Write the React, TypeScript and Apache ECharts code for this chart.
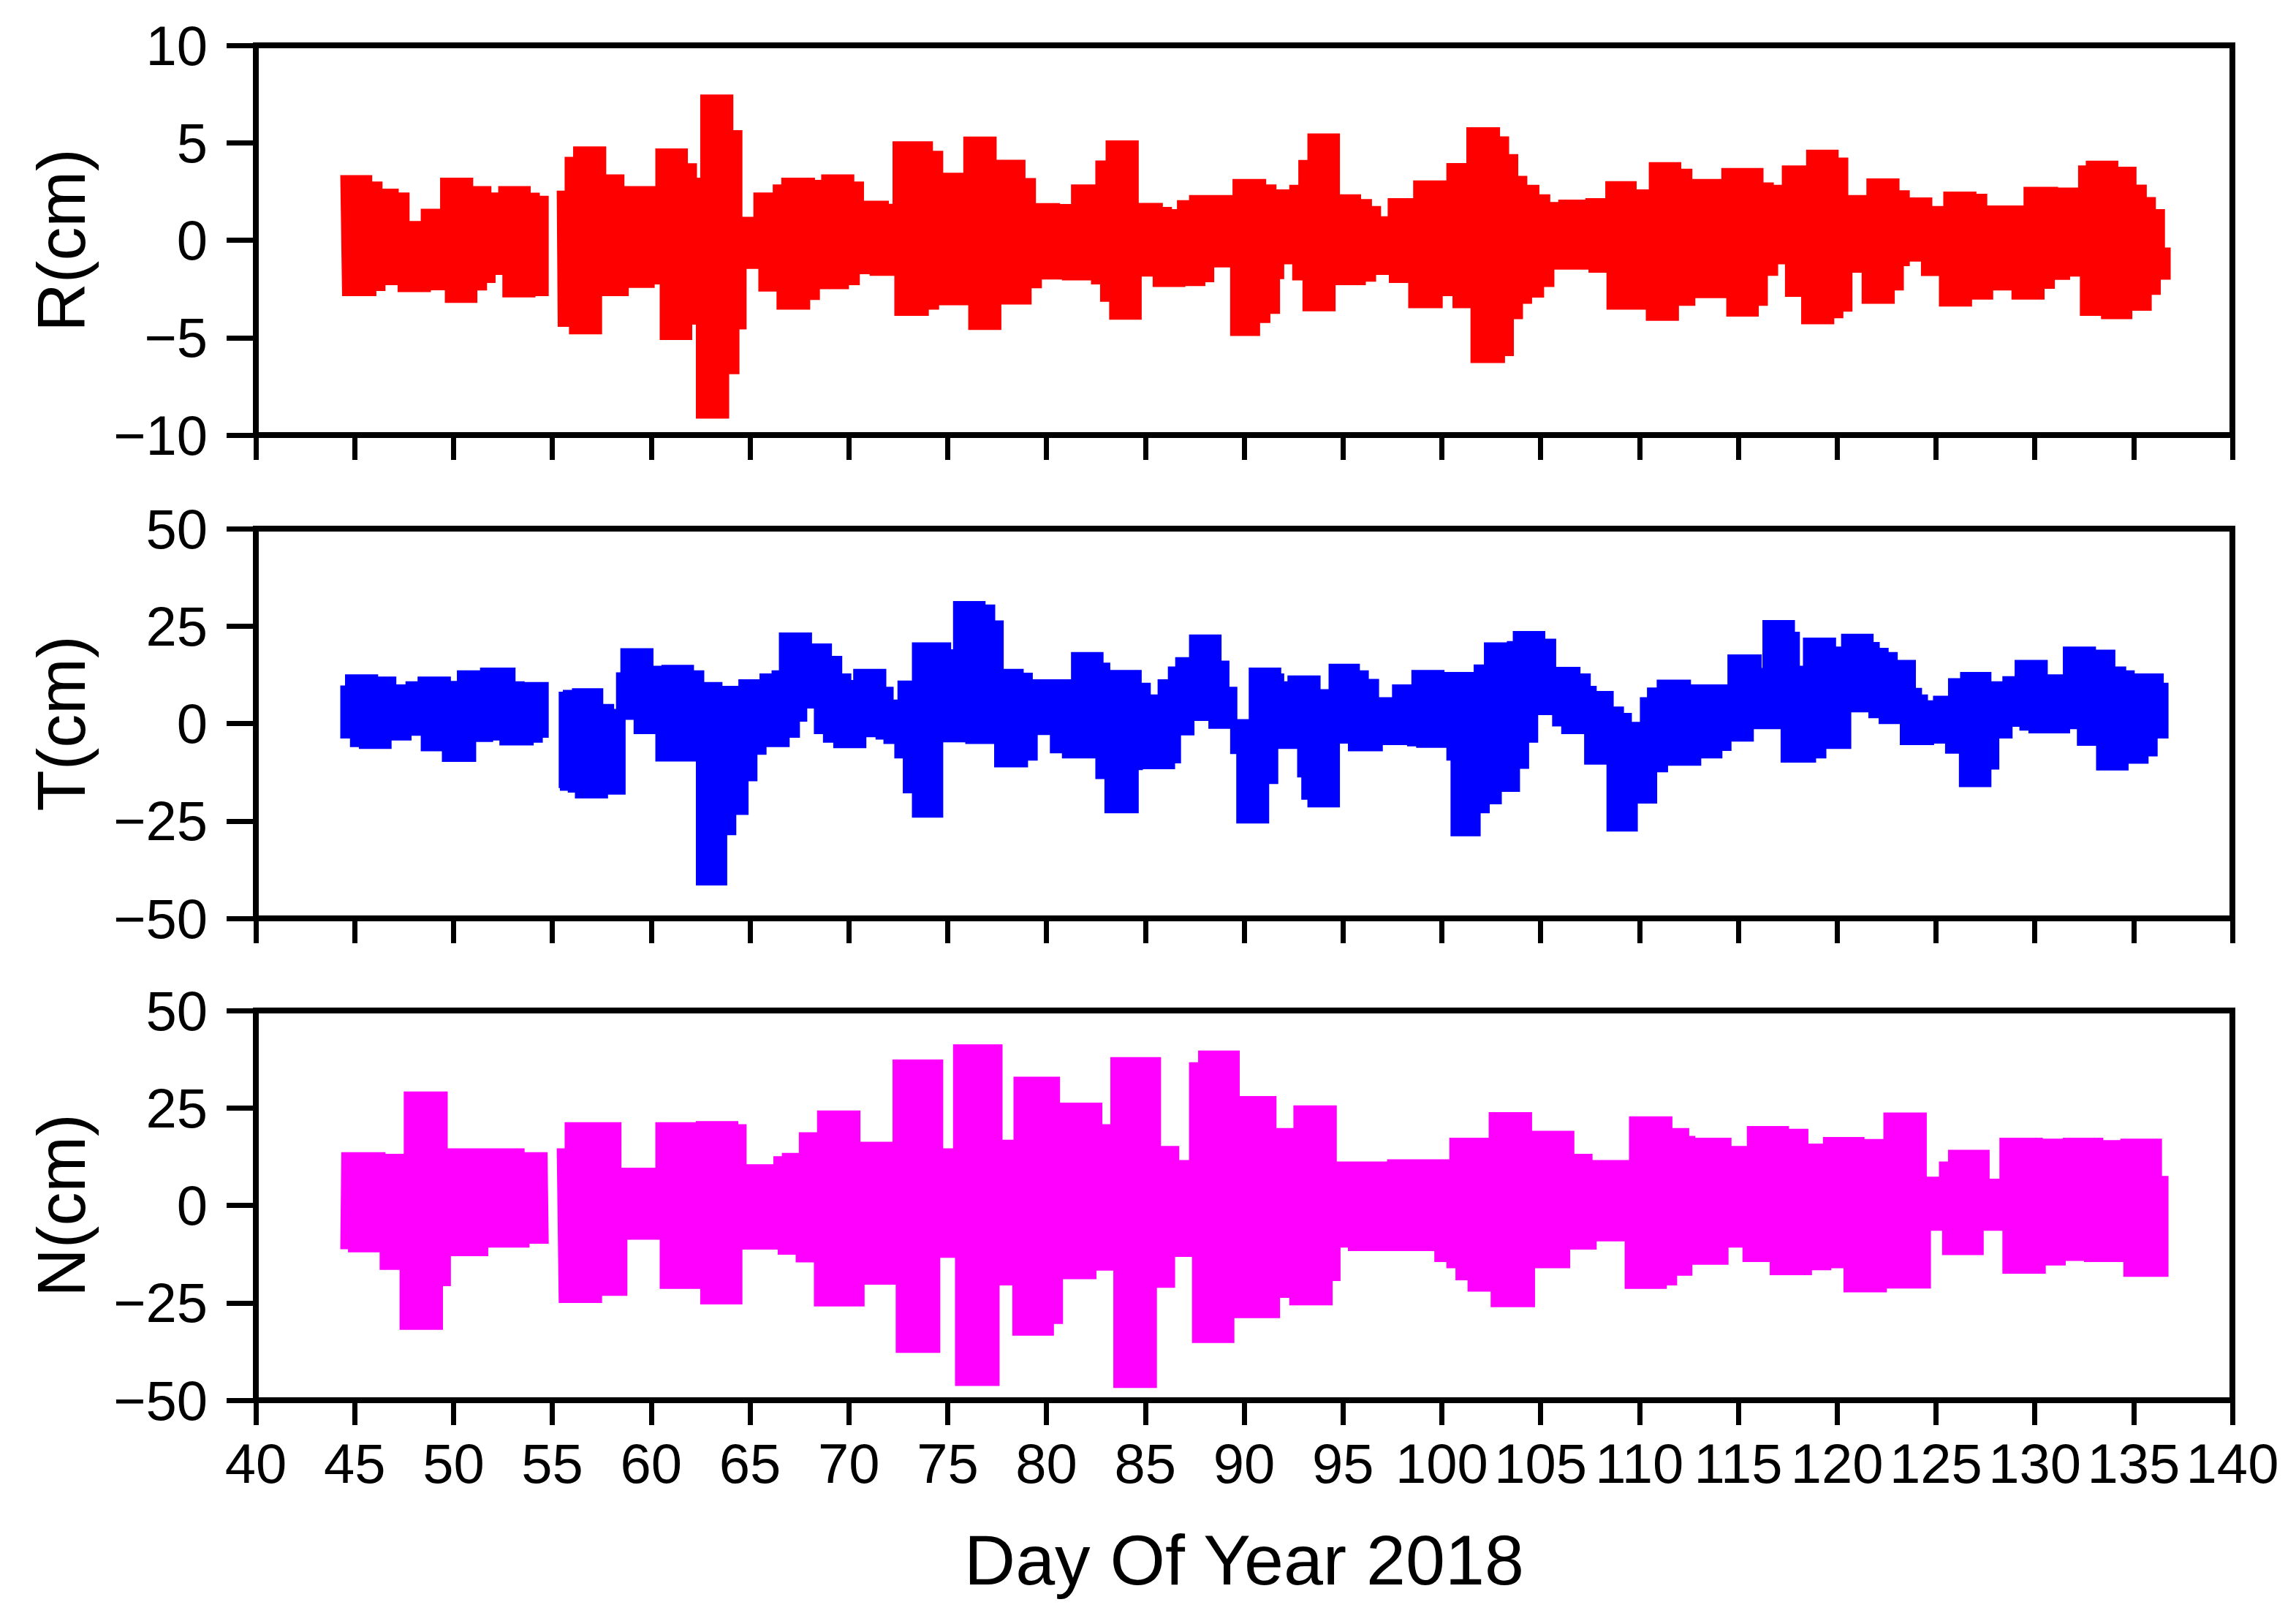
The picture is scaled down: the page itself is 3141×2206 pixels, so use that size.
import React, { useEffect, useRef } from "react";
import * as echarts from "echarts";

type Pt = [number, number | null];

// x axis (day of year)
const xMin = 40;
const xMax = 140;
const xStep = 5;

// panel names, colours and y ranges
const panelNames = ["R(cm)", "T(cm)", "N(cm)"];
const panelColors = ["#FF0000", "#0000FF", "#FF00FF"];
const yMins = [-10, -50, -50];
const yMaxs = [10, 50, 50];
const ySteps = [5, 25, 25];

// Envelopes: [day, value] = value holds from this day to the next entry; null ends a piece
const rUpper: Pt[] = [
  [44.3, 3.31], [45.86, 2.98], [46.38, 2.62], [47.2, 2.42], [47.75, 0.96], [48.37, 1.59], [49.35, 3.18], [50.97, 2.75],
  [51.89, 2.42], [52.29, 2.75], [53.88, 2.41], [54.34, 2.25], [54.79, null],
  [55.25, 2.51], [55.65, 4.25], [56.08, 4.78], [57.7, 3.35], [58.62, 2.75], [60.24, 4.68], [61.83, 3.92], [62.29, 3.18],
  [62.51, 7.45], [64.13, 5.62], [64.59, 1.17], [65.2, 2.42], [66.18, 2.83], [66.61, 3.18], [68.26, 3.07], [68.63, 3.35],
  [70.25, 2.98], [70.74, 2.0], [72.0, 1.84], [72.24, 5.05], [74.23, 4.56], [74.75, 3.43], [75.82, 5.29], [77.45, 4.1],
  [78.91, 3.16], [79.44, 1.88], [80.66, 1.83], [81.27, 2.83], [82.5, 4.06], [83.02, 5.09], [84.64, 1.89], [85.86, 1.68],
  [86.32, 1.57], [86.63, 2.03], [87.24, 2.29], [89.44, 3.11], [91.09, 2.83], [91.61, 2.58], [92.31, 2.81], [92.77, 4.09],
  [93.23, 5.45], [94.82, 2.33], [95.89, 2.08], [96.44, 1.73], [96.9, 1.2], [97.29, 2.13], [98.58, 3.04], [100.26, 3.93],
  [101.27, 5.77], [102.92, 5.3], [103.38, 4.39], [103.84, 3.27], [104.3, 2.81], [104.91, 2.33], [105.46, 1.93], [105.92, 2.05],
  [107.29, 2.13], [108.3, 3.0], [109.83, 2.58], [110.5, 3.98], [112.09, 3.64], [112.65, 3.11], [114.17, 3.68], [116.25, 2.94],
  [116.77, 2.81], [117.23, 3.81], [118.46, 4.62], [120.05, 4.21], [120.54, 2.29], [121.51, 3.14], [123.13, 2.53], [123.65, 2.17],
  [124.79, 1.73], [125.4, 2.47], [127.02, 2.35], [127.57, 1.75], [129.46, 2.71], [131.15, 2.67], [132.22, 3.81], [132.61, 4.05],
  [134.2, 3.74], [135.12, 2.82], [135.64, 2.19], [136.1, 1.57], [136.56, -0.4], [136.85, null],
];
const rLower: Pt[] = [
  [44.39, -2.84], [46.07, -2.58], [46.53, -2.28], [47.2, -2.64], [48.83, -2.54], [49.59, -3.19], [51.18, -2.55], [51.67, -2.17],
  [52.1, -1.75], [52.5, -2.91], [54.12, -2.84], [54.79, null],
  [55.3, -4.42], [55.87, -4.8], [57.49, -2.84], [58.84, -2.42], [60.15, -2.24], [60.46, -5.09], [62.05, -4.31], [62.29, -9.13],
  [63.92, -6.85], [64.44, -4.55], [64.8, -1.44], [65.45, -2.61], [66.37, -3.54], [68.02, -3.04], [68.51, -2.49], [69.98, -2.28],
  [70.53, -1.72], [71.08, -1.8], [72.33, -3.86], [74.02, -3.54], [74.54, -3.31], [76.07, -4.58], [77.69, -3.27], [79.22, -2.44],
  [79.74, -1.99], [80.81, -2.04], [82.28, -2.24], [82.74, -3.13], [83.2, -4.05], [84.79, -1.84], [85.4, -2.37], [87.0, -2.33],
  [88.01, -2.13], [88.46, -1.37], [89.32, -4.89], [90.78, -4.22], [91.3, -3.75], [91.79, -1.97], [92.0, -1.21], [92.46, -2.04],
  [92.98, -3.62], [94.6, -2.28], [96.13, -2.1], [96.65, -1.75], [97.35, -2.17], [98.33, -3.46], [100.02, -2.84], [100.57, -3.46],
  [101.48, -6.28], [103.17, -5.92], [103.62, -4.02], [104.08, -3.24], [104.54, -2.92], [105.15, -2.37], [105.67, -1.48], [107.45, -1.64],
  [108.36, -3.54], [110.35, -4.11], [111.97, -3.34], [112.8, -2.95], [114.42, -3.89], [116.01, -3.34], [116.47, -1.8], [116.99, -1.21],
  [117.39, -2.88], [118.21, -4.29], [119.83, -3.98], [120.29, -3.64], [120.75, -1.64], [121.27, -3.24], [122.89, -2.55], [123.35, -1.3],
  [123.65, -1.07], [124.27, -1.81], [125.18, -3.38], [126.8, -3.02], [127.87, -2.55], [128.85, -3.02], [130.47, -2.47], [130.99, -2.01],
  [131.76, -1.84], [132.31, -3.86], [133.38, -4.02], [134.91, -3.59], [135.89, -2.78], [136.35, -2.0], [136.85, null],
];

const tUpper: Pt[] = [
  [44.3, 9.6], [44.54, 12.5], [46.16, 11.9], [47.08, 9.9], [47.6, 10.7], [48.21, 11.9], [49.84, 10.8], [50.2, 13.5],
  [51.37, 14.2], [53.11, 10.7], [53.57, 10.5], [54.79, null],
  [55.35, 8.0], [55.56, 8.5], [56.02, 8.9], [57.55, 4.9], [58.1, 3.6], [58.25, 13.0], [58.47, 19.2], [60.09, 14.7],
  [60.55, 14.9], [62.14, 13.5], [62.66, 10.5], [63.58, 9.5], [64.44, 11.2], [65.51, 12.7], [66.12, 13.5], [66.49, 23.2],
  [68.11, 20.4], [69.12, 17.2], [69.64, 12.7], [70.1, 11.0], [70.25, 13.9], [71.87, 9.3], [72.24, 6.0], [72.49, 10.9],
  [73.22, 20.7], [75.15, 18.9], [75.3, 31.3], [76.89, 30.4], [77.38, 26.3], [77.81, 13.9], [78.82, 12.9], [79.28, 11.2],
  [81.27, 18.2], [82.86, 15.5], [83.2, 13.6], [84.79, 10.3], [85.25, 7.3], [85.65, 11.2], [86.17, 14.5], [86.54, 16.9],
  [87.24, 22.7], [88.83, 16.0], [89.23, 9.3], [89.63, 1.0], [90.26, 14.2], [91.85, 12.7], [92.0, 10.7], [92.22, 12.2],
  [93.84, 8.7], [94.3, 15.2], [95.83, 13.5], [96.28, 11.3], [96.8, 6.6], [97.51, 9.9], [98.49, 13.6], [100.11, 13.1],
  [101.64, 15.0], [102.16, 20.7], [103.32, 21.0], [103.62, 23.6], [105.21, 21.6], [105.76, 14.4], [106.99, 12.7], [107.51, 9.5],
  [107.81, 8.2], [108.67, 4.2], [109.19, 2.6], [109.59, 0.3], [110.05, 6.6], [110.41, 9.1], [110.9, 11.1], [112.58, 9.9],
  [114.48, 17.6], [116.16, 14.1], [116.25, 26.4], [117.84, 23.4], [118.09, 14.7], [118.3, 21.9], [119.92, 19.6], [120.23, 22.9],
  [121.82, 20.8], [122.13, 19.3], [122.58, 18.2], [123.04, 16.2], [123.96, 9.0], [124.27, 7.3], [124.57, 5.8], [124.88, 7.0],
  [125.64, 11.5], [126.25, 13.1], [127.78, 10.7], [128.39, 12.0], [129.01, 16.2], [130.63, 12.5], [131.45, 19.6], [133.07, 18.8],
  [134.05, 14.5], [134.6, 13.5], [135.03, 12.7], [136.5, 10.3], [136.74, null],
];
const tLower: Pt[] = [
  [44.3, -3.7], [44.79, -5.9], [45.24, -6.4], [46.84, -4.2], [47.85, -3.0], [48.37, -7.0], [49.44, -9.7], [51.12, -4.6],
  [51.98, -4.2], [52.35, -5.5], [54.03, -4.8], [54.49, -3.5], [54.79, null],
  [55.35, -16.4], [55.41, -17.1], [55.81, -17.6], [56.17, -19.1], [57.79, -18.1], [58.68, 1.1], [59.14, -2.6], [60.24, -9.6],
  [62.29, -41.4], [63.82, -28.5], [64.28, -23.3], [64.9, -14.7], [65.35, -7.9], [65.81, -5.9], [66.98, -3.5], [67.5, 0.6],
  [67.87, 4.0], [68.26, -2.6], [68.72, -4.8], [69.24, -6.2], [70.86, -3.4], [71.38, -4.0], [71.78, -5.1], [72.33, -8.8],
  [72.76, -17.8], [73.22, -24.0], [74.75, -4.7], [75.92, -5.1], [77.38, -11.1], [79.04, -9.4], [79.53, -2.8], [80.2, -7.5],
  [80.81, -8.8], [82.5, -14.1], [82.96, -22.9], [84.64, -11.8], [84.85, -11.6], [86.48, -10.1], [86.78, -2.9], [87.46, 0.8],
  [88.22, -1.2], [89.32, -7.7], [89.63, -25.5], [91.24, -15.4], [91.7, -6.4], [92.71, -13.7], [92.92, -19.4], [93.23, -21.4],
  [94.82, -5.0], [95.28, -7.0], [96.99, -5.4], [98.27, -5.7], [98.73, -6.1], [100.26, -9.4], [100.47, -28.8], [101.94, -22.9],
  [102.4, -20.6], [103.01, -17.4], [103.93, -11.5], [104.39, -4.8], [104.85, 2.3], [105.61, -0.6], [106.07, -2.6], [107.23, -10.4],
  [108.36, -27.6], [109.89, -20.4], [110.87, -12.4], [111.42, -10.7], [113.1, -8.8], [114.17, -6.9], [114.63, -4.5], [115.76, -1.3],
  [117.17, -9.9], [118.91, -8.8], [119.43, -6.4], [120.69, 3.0], [121.61, 1.5], [122.13, 0.0], [123.2, -5.4], [124.88, -5.0],
  [125.49, -7.6], [126.19, -16.2], [127.78, -11.7], [128.18, -3.7], [128.85, -0.7], [129.25, -1.7], [129.71, -2.4], [131.76, -1.3],
  [132.16, -5.6], [133.13, -11.9], [134.72, -10.2], [135.73, -8.3], [136.19, -3.7], [136.74, null],
];

const nUpper: Pt[] = [
  [44.35, 13.5], [46.53, 13.1], [47.51, 29.1], [49.68, 14.5], [53.57, 13.5], [54.73, null],
  [55.25, 14.5], [55.65, 21.2], [58.47, 9.5], [60.24, 21.2], [62.29, 21.5], [64.38, 20.7], [64.8, 10.4], [66.21, 12.5],
  [66.64, 13.3], [67.5, 18.6], [68.42, 24.2], [70.56, 16.2], [72.24, 37.3], [74.75, 14.5], [75.3, 41.2], [77.75, 16.7],
  [78.36, 32.9], [80.66, 26.2], [82.8, 20.7], [83.26, 37.9], [85.77, 15.1], [86.69, 11.5], [87.24, 36.6], [87.7, 39.6],
  [89.75, 27.9], [91.61, 19.7], [92.52, 25.5], [94.66, 11.1], [97.26, 11.7], [100.41, 17.2], [102.4, 23.8], [104.54, 19.0],
  [106.68, 13.1], [107.6, 11.5], [109.5, 22.7], [111.64, 19.7], [112.49, 17.7], [112.8, 17.2], [114.63, 15.1], [115.46, 20.2],
  [117.54, 19.5], [118.52, 15.7], [119.31, 17.4], [121.36, 16.9], [122.37, 23.7], [124.51, 7.2], [125.18, 11.1], [125.64, 14.1],
  [127.69, 6.7], [128.24, 17.2], [130.38, 17.0], [131.45, 17.2], [133.44, 16.6], [134.36, 17.0], [136.41, 7.4], [136.74, null],
];
const nLower: Pt[] = [
  [44.3, -11.1], [44.69, -11.9], [46.29, -16.4], [47.3, -31.8], [49.44, -20.6], [49.84, -12.9], [51.73, -10.7], [53.82, -9.7], [54.79, null],
  [55.35, -24.9], [57.49, -23.1], [58.77, -8.7], [60.46, -21.3], [62.51, -25.3], [64.59, -11.2], [66.43, -12.5], [67.34, -14.5],
  [68.26, -25.8], [70.77, -20.2], [72.4, -37.7], [74.6, -13.3], [75.4, -46.2], [77.6, -20.4], [78.3, -33.3], [80.35, -30.3],
  [80.81, -18.8], [82.5, -16.6], [83.41, -46.7], [85.56, -21.0], [86.48, -13.1], [87.39, -35.2], [89.48, -28.8], [91.79, -23.6],
  [92.31, -25.5], [94.45, -19.3], [94.85, -10.7], [95.28, -11.6], [99.65, -14.4], [100.26, -16.0], [100.72, -19.1], [101.33, -22.0],
  [102.5, -26.0], [104.69, -16.0], [106.47, -11.2], [107.81, -9.1], [109.28, -21.3], [111.36, -20.4], [111.88, -17.9], [112.65, -15.1],
  [114.48, -10.7], [115.24, -14.4], [116.62, -17.8], [118.7, -16.5], [119.68, -16.0], [120.35, -22.2], [122.49, -21.2], [124.72, -6.4],
  [125.34, -12.6], [127.39, -6.4], [128.39, -17.4], [130.53, -15.3], [131.54, -14.1], [132.52, -14.4], [134.51, -18.2], [136.74, null],
];

const uppers = [rUpper, tUpper, nUpper];
const lowers = [rLower, tLower, nLower];

type Piece = { pts: [number, number][]; end: number };

function splitPieces(arr: Pt[]): Piece[] {
  const out: Piece[] = [];
  let cur: [number, number][] = [];
  for (const [x, y] of arr) {
    if (y === null) {
      out.push({ pts: cur, end: x });
      cur = [];
    } else cur.push([x, y]);
  }
  return out;
}

function stepPoints(p: Piece): [number, number][] {
  const res: [number, number][] = [];
  for (let i = 0; i < p.pts.length; i++) {
    const x0 = p.pts[i][0];
    const x1 = i + 1 < p.pts.length ? p.pts[i + 1][0] : p.end;
    res.push([x0, p.pts[i][1]], [x1, p.pts[i][1]]);
  }
  return res;
}

function bandPolygons(up: Pt[], lo: Pt[]): [number, number][][] {
  const u = splitPieces(up);
  const l = splitPieces(lo);
  return u.map((piece, k) => stepPoints(piece).concat(stepPoints(l[k]).reverse()));
}

const FONT = "'Liberation Sans', Arial, Helvetica, sans-serif";
const gridLeft = 350;
const gridWidth = 2704;
const gridTops = [62, 723, 1382];
const gridHeight = 533;
const LW = 8;

export default function App() {
  const ref = useRef<HTMLDivElement>(null);
  useEffect(() => {
    document.body.style.margin = "0";
    if (!ref.current) return;
    const chart = echarts.init(ref.current, null, { renderer: "svg" });
    const grids: any[] = [];
    const xAxes: any[] = [];
    const yAxes: any[] = [];
    const series: any[] = [];
    for (let i = 0; i < 3; i++) {
      grids.push({
        left: gridLeft,
        top: gridTops[i],
        width: gridWidth,
        height: gridHeight,
        show: true,
        borderColor: "#000",
        borderWidth: LW,
        containLabel: false,
        z: 10,
      });
      const isBottom = i === 2;
      xAxes.push({
        type: "value",
        gridIndex: i,
        min: xMin,
        max: xMax,
        interval: xStep,
        z: 10,
        axisLine: { show: true, onZero: false, lineStyle: { color: "#000", width: LW } },
        axisTick: { show: true, length: 34, lineStyle: { color: "#000", width: 7 } },
        axisLabel: {
          show: isBottom,
          fontSize: 76,
          color: "#000",
          fontFamily: FONT,
          margin: 48,
        },
        splitLine: { show: false },
        name: isBottom ? "Day Of Year 2018" : "",
        nameLocation: "middle",
        nameGap: 170,
        nameTextStyle: { fontSize: 97, color: "#000", fontFamily: FONT },
      });
      yAxes.push({
        type: "value",
        gridIndex: i,
        min: yMins[i],
        max: yMaxs[i],
        interval: ySteps[i],
        z: 10,
        axisLine: { show: true, onZero: false, lineStyle: { color: "#000", width: LW } },
        axisTick: { show: true, length: 40, lineStyle: { color: "#000", width: 7 } },
        axisLabel: {
          fontSize: 76,
          color: "#000",
          fontFamily: FONT,
          margin: 66,
          formatter: (v: number) => String(v).replace("-", "\u2212"),
        },
        splitLine: { show: false },
        name: panelNames[i],
        nameLocation: "middle",
        nameGap: 220,
        nameTextStyle: { fontSize: 92, color: "#000", fontFamily: FONT },
      });
      const polys = bandPolygons(uppers[i], lowers[i]);
      const color = panelColors[i];
      series.push({
        type: "custom",
        xAxisIndex: i,
        yAxisIndex: i,
        silent: true,
        clip: true,
        z: 2,
        data: polys.map((p, k) => [p[0][0], p[0][1], k]),
        renderItem: (params: any, api: any) => {
          const poly = polys[params.dataIndex];
          return {
            type: "polygon",
            shape: { points: poly.map((pt) => api.coord(pt)) },
            style: { fill: color, stroke: color, lineWidth: 1.5 },
          };
        },
      });
    }
    chart.setOption({
      animation: false,
      backgroundColor: "#fff",
      textStyle: { fontFamily: FONT },
      grid: grids,
      xAxis: xAxes,
      yAxis: yAxes,
      series,
    });
    return () => chart.dispose();
  }, []);
  return <div ref={ref} style={{ width: 3141, height: 2206 }} />;
}
